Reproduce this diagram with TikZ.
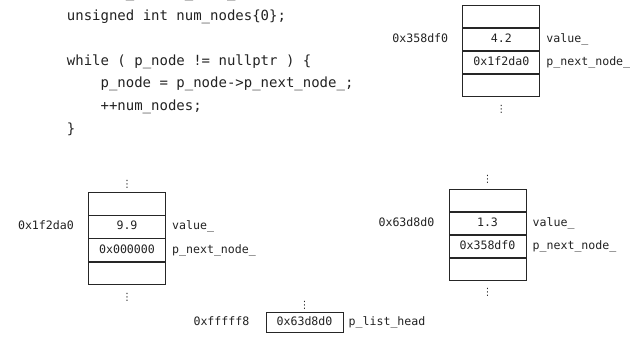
\documentclass[tikz,border=0pt]{standalone}
\usepackage{fontspec}
\usepackage{xcolor}
\usepackage{tikz}
\usetikzlibrary{positioning}
\newfontfamily\monofont{DejaVu Sans Mono}
\newfontfamily\symfont{DejaVu Sans}
\newcommand{\codesize}{\fontsize{14}{16}\selectfont}
\newcommand{\memsize}{\fontsize{11.6}{13}\selectfont}
\definecolor{inkgray}{RGB}{34,34,34}

\begin{document}
\begin{tikzpicture}[
  x=1pt, y=-1pt,
  code/.style={anchor=base west, inner sep=0pt, text=inkgray, font=\monofont\codesize},
  cell/.style={draw=black!85, line width=0.8pt, minimum width=77pt, minimum height=22.3pt,
               inner sep=0pt, text height=8.5pt, text depth=2.5pt, text=inkgray, font=\monofont\memsize},
  lbl/.style={inner sep=0pt, text height=8.5pt, text depth=2.5pt, text=inkgray, font=\monofont\memsize},
  dots/.style={inner sep=0pt, text height=8pt, text depth=0pt, text=inkgray,
               font=\symfont\fontsize{10}{10}\selectfont},
]
\useasboundingbox (0,0) rectangle (637,337);

% Code fragment
\node[code] (code0) at (66.7,-2)    {Node* p\_node\{p\_list\_head\};};
\node[code] (code1) at (66.7,20.5)  {unsigned int num\_nodes\{0\};};
\node[code] (code2) at (66.7,65.5)  {while ( p\_node != nullptr ) \{};
\node[code] (code3) at (100.4,88)   {p\_node = p\_node->p\_next\_node\_;};
\node[code] (code4) at (100.4,110.5) {++num\_nodes;};
\node[code] (code5) at (66.7,133)   {\}};

% Node at 0x358df0
\node[cell] (a0) at (501.3,16.1) {};
\node[cell, below=0pt of a0] (a1) {4.2};
\node[cell, below=0pt of a1] (a2) {0x1f2da0};
\node[cell, below=0pt of a2] (a3) {};
\node[lbl, left=14pt of a1]  (aaddr) {0x358df0};
\node[lbl, right=6pt of a1]  (aval)  {value\_};
\node[lbl, right=6pt of a2]  (anext) {p\_next\_node\_};
\node[dots, below=7pt of a3] (adots) {⋮};

% Node at 0x1f2da0
\node[cell] (b0) at (127,203.8) {};
\node[cell, below=0pt of b0] (b1) {9.9};
\node[cell, below=0pt of b1] (b2) {0x000000};
\node[cell, below=0pt of b2] (b3) {};
\node[lbl, left=14pt of b1]  (baddr) {0x1f2da0};
\node[lbl, right=6pt of b1]  (bval)  {value\_};
\node[lbl, right=6pt of b2]  (bnext) {p\_next\_node\_};
\node[dots, above=5pt of b0] (bdotsup) {⋮};
\node[dots, below=8pt of b3] (bdots)   {⋮};

% Node at 0x63d8d0
\node[cell] (c0) at (487.5,200.4) {};
\node[cell, below=0pt of c0] (c1) {1.3};
\node[cell, below=0pt of c1] (c2) {0x358df0};
\node[cell, below=0pt of c2] (c3) {};
\node[lbl, left=14pt of c1]  (caddr) {0x63d8d0};
\node[lbl, right=6pt of c1]  (cval)  {value\_};
\node[lbl, right=6pt of c2]  (cnext) {p\_next\_node\_};
\node[dots, above=6pt of c0] (cdotsup) {⋮};
\node[dots, below=6pt of c3] (cdots)   {⋮};

% List head
\node[cell, minimum height=19.5pt] (head) at (304.5,322.5) {0x63d8d0};
\node[lbl, left=16pt of head] (haddr) {0xfffff8};
\node[lbl, right=5pt of head] (hname) {p\_list\_head};
\node[dots, above=4pt of head] (hdots) {⋮};
\end{tikzpicture}
\end{document}
